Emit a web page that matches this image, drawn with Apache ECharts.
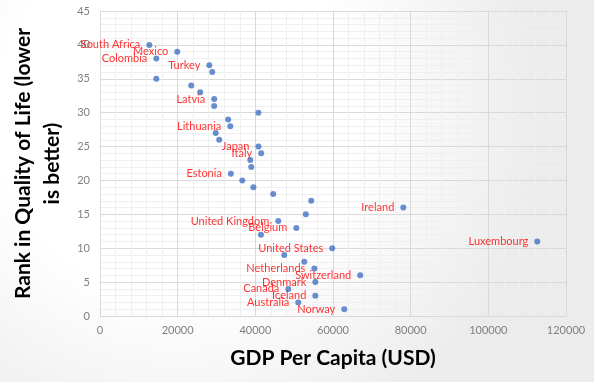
<!DOCTYPE html>
<html>
<head>
<meta charset="utf-8">
<script src="https://cdn.jsdelivr.net/npm/echarts@6/dist/echarts.min.js"></script>
<style>html,body{margin:0;padding:0;}#c{width:594px;height:382px;}</style>
</head>
<body>
<div id="c"></div>
<script>
const countries = ["Norway","Australia","Iceland","Canada","Denmark","Switzerland","Netherlands","","","United States","Luxembourg","","Belgium","United Kingdom","","Ireland","","","","","Estonia","","","Italy","Japan","","","Lithuania","","","","Latvia","","","","","Turkey","Colombia","Mexico","South Africa"];
const ranks = [1,2,3,4,5,6,7,8,9,10,11,12,13,14,15,16,17,18,19,20,21,22,23,24,25,26,27,28,29,30,31,32,33,34,35,36,37,38,39,40];
const gdp = [62900,51050,55450,48500,55450,67000,55200,52600,47450,59800,112600,41450,50550,45900,53000,78100,54400,44600,39500,36650,33700,38950,38700,41500,40800,30700,29800,33550,33000,40800,29400,29400,25800,23500,14500,28900,28150,14500,19900,12700];
const xTicks = [0,20000,40000,60000,80000,100000,120000];
const yTicks = [0,5,10,15,20,25,30,35,40,45];

const data = gdp.map((g,i)=>({value:[g,ranks[i]],name:countries[i]}));
const chart = echarts.init(document.getElementById('c'));
const font = 'Lato, "Open Sans", sans-serif';
chart.setOption({
  backgroundColor: {type:'radial',x:0.3,y:0.3,r:0.95,colorStops:[{offset:0,color:'#ffffff'},{offset:0.5,color:'#ffffff'},{offset:1,color:'#ececec'}]},
  animation:false,
  grid:{left:100,right:28,top:11,bottom:66},
  xAxis:{type:'value',min:xTicks[0],max:xTicks[xTicks.length-1],interval:20000,
    axisLine:{show:false},axisTick:{show:false},
    axisLabel:{color:'#7f7f7f',fontSize:11,fontFamily:font,margin:9,formatter:v=>String(v)},
    splitLine:{show:true,lineStyle:{color:'#d9d9d9',width:1}},
    minorTick:{show:false,splitNumber:5},
    minorSplitLine:{show:true,lineStyle:{color:'#efefef',width:1}},
    name:'GDP Per Capita (USD)',nameLocation:'middle',nameGap:32,
    nameTextStyle:{color:'#000',fontSize:21,fontWeight:'bold',fontFamily:font}
  },
  yAxis:{type:'value',min:yTicks[0],max:yTicks[yTicks.length-1],interval:5,
    axisLine:{show:false},axisTick:{show:false},
    axisLabel:{color:'#7f7f7f',fontSize:11,fontFamily:font,margin:10},
    splitLine:{show:true,lineStyle:{color:'#d9d9d9',width:1}},
    minorTick:{show:false,splitNumber:5},
    minorSplitLine:{show:true,lineStyle:{color:'#efefef',width:1}},
    name:'Rank in Quality of Life (lower\nis better)',nameLocation:'middle',nameGap:23,nameRotate:90,
    nameTextStyle:{color:'#000',fontSize:21,fontWeight:'bold',fontFamily:font,lineHeight:29,align:'center'}
  },
  series:[{type:'scatter',data:data,symbolSize:6,itemStyle:{color:'#4472c4'},
    label:{show:true,position:'left',distance:6,color:'#ff0000',fontSize:11,fontFamily:font,formatter:p=>p.name}
  }]
});
</script>
</body>
</html>
